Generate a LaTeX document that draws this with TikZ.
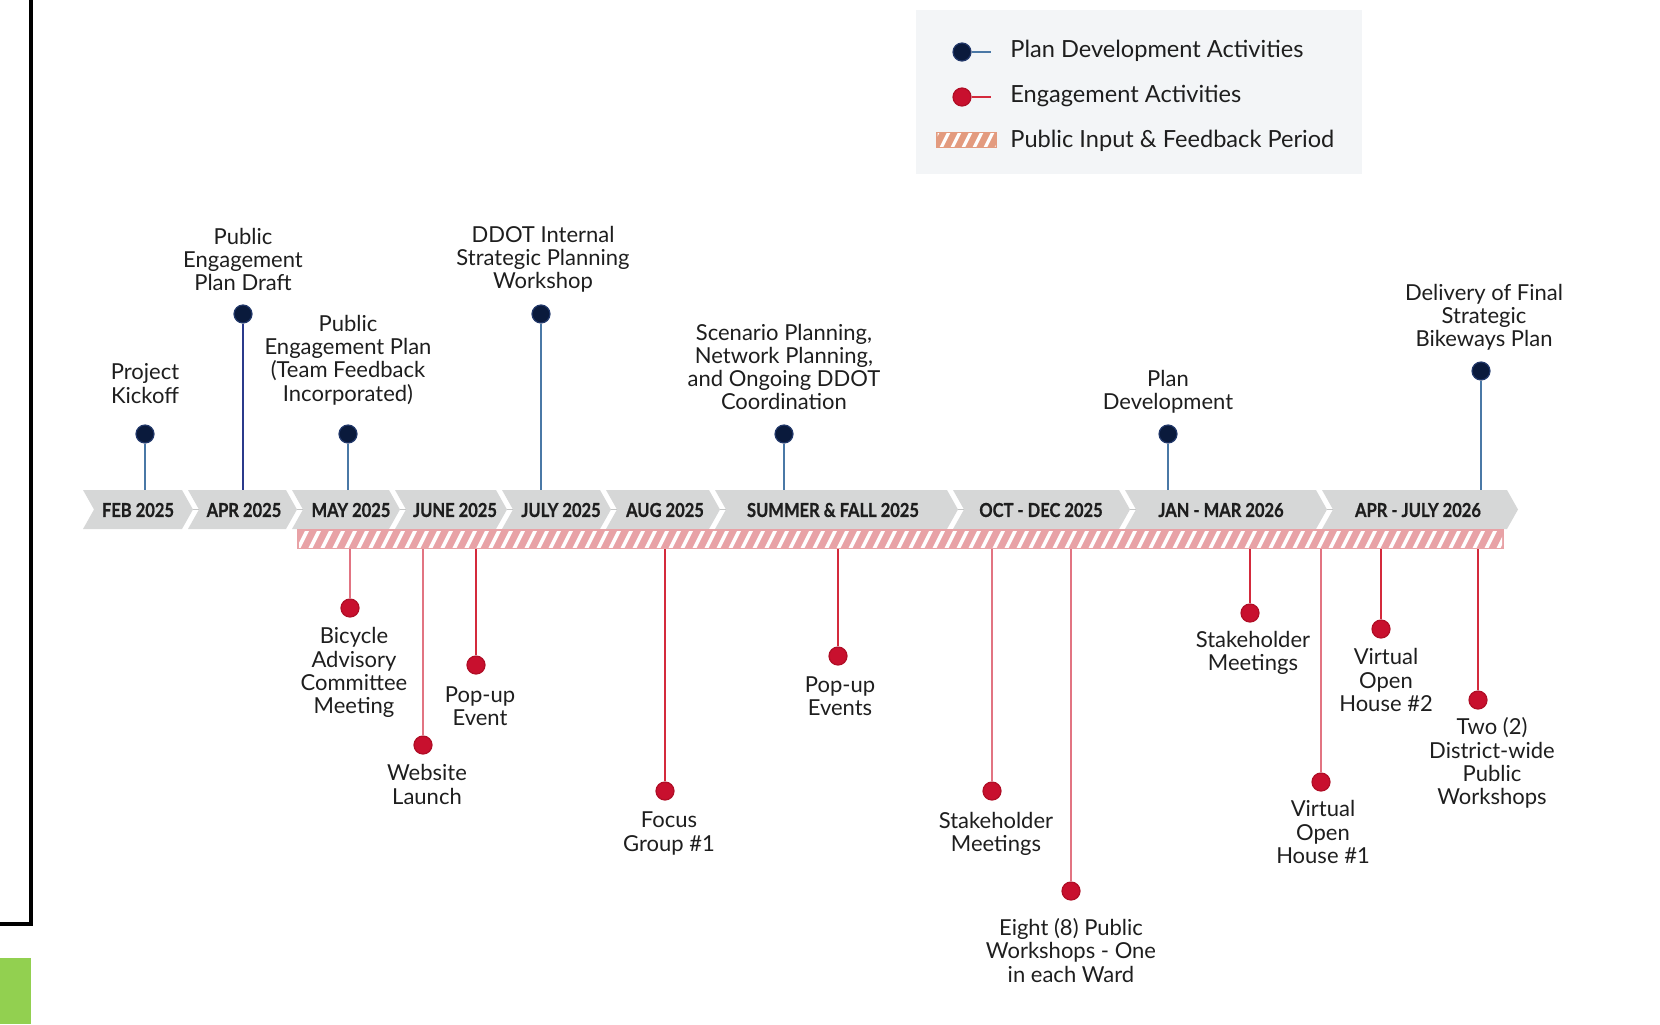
\documentclass[tikz,border=0pt]{standalone}
\usepackage{graphicx}
\usepackage{fontspec}
\setmainfont{Lato}
\newfontfamily\chevfont{Lato}[BoldFeatures={FakeBold=0.8}]
\definecolor{txtc}{HTML}{1E1E1E}
\definecolor{navyc}{HTML}{0A1A3C}
\definecolor{navyrim}{HTML}{22386A}
\definecolor{redc}{HTML}{C8102E}
\definecolor{redrim}{HTML}{B00E26}
\definecolor{stemblue}{HTML}{4A78A6}
\definecolor{stemdark}{HTML}{2B3A8C}
\definecolor{stemred}{HTML}{D42A3C}
\definecolor{stemlight}{HTML}{E27482}
\definecolor{chevc}{HTML}{D6D7D7}
\definecolor{hatchc}{HTML}{E8A2A6}
\definecolor{swatchc}{HTML}{E39B7F}
\definecolor{legbg}{HTML}{F3F5F7}
\definecolor{greenc}{HTML}{92D050}
\begin{document}
\begin{tikzpicture}[x=0.5pt,y=-0.5pt,
  lbl/.style={font=\fontsize{11}{11.6}\selectfont, align=center, inner sep=0pt, text=txtc},
  navydot/.style={circle, fill=navyc, draw=navyrim, line width=0.6pt, minimum size=9pt, inner sep=0pt},
  reddot/.style={circle, fill=redc, draw=redrim, line width=0.6pt, minimum size=9pt, inner sep=0pt},
  navystem/.style={draw=stemblue, line width=0.9pt},
  darkstem/.style={draw=stemdark, line width=0.9pt},
  redstem/.style={draw=stemred, line width=0.9pt},
  lightstem/.style={draw=stemlight, line width=0.9pt},
  chevtxt/.style={font=\chevfont\fontsize{9.6}{10}\selectfont\bfseries, text=txtc, inner sep=0pt},
  legtxt/.style={font=\fontsize{11.8}{13}\selectfont, text=txtc, anchor=base west, inner sep=0pt},
]
\useasboundingbox (0,0) rectangle (1660,1024);

% frame remnants
\draw[black, line width=1.75pt] (0,924) -- (31,924) -- (31,-2);
\fill[greenc] (0,958) rectangle (31,1024);

% legend
\fill[legbg] (916,10) rectangle (1362,174);
\node[navydot] (lgnavy) at (962,52) {};
\coordinate (lgnavyend) at (991,52);
\draw[navystem] (lgnavy) -- (lgnavyend);
\node[legtxt] (lgt1) at (1010,57) {Plan Development Activities};
\node[reddot] (lgred) at (962,97) {};
\coordinate (lgredend) at (991,97);
\draw[redstem] (lgred) -- (lgredend);
\node[legtxt] (lgt2) at (1010,102) {Engagement Activities};
\fill[swatchc] (936,132) rectangle (997,148);
\begin{scope}
  \clip (937.5,133.5) rectangle (995.5,146.5);
  \foreach \x in {930,941,...,1000} \draw[white, line width=1.6pt] (\x,148) -- (\x+8,132);
\end{scope}
\node[legtxt] (lgt3) at (1010,147) {Public Input \& Feedback Period};

% chevrons
\foreach \p/\t/\cx/\lab/\nm in {88/193/138/FEB 2025/c1, 193/297/244/APR 2025/c2, 297/400/351/MAY 2025/c3, 400/507/455/JUNE 2025/c4, 507/611/561/JULY 2025/c5, 611/720/665/AUG 2025/c6, 720/958/833/SUMMER \& FALL 2025/c7, 958/1130/1041/OCT - DEC 2025/c8, 1130/1327/1221/JAN - MAR 2026/c9, 1327/1518/1418/APR - JULY 2026/c10}{
  \fill[chevc] (\p-5,490) -- (\t-11,490) -- (\t,509.5) -- (\t-11,529) -- (\p-5,529) -- (\p+6,509.5) -- cycle;
  \node[chevtxt] (\nm) at (\cx,510) {\scalebox{0.86}[1]{\lab}};
}
\foreach \t in {193,297,400,507,611,720,958,1130,1327}
  \draw[chevc!80!gray, line width=0.6pt] (\t,509.5) -- (\t+6,509.5);

% hatched public input bar
\fill[hatchc] (297,529) rectangle (1504,549);
\begin{scope}
  \clip (299,531) rectangle (1502,547);
  \foreach \x in {286,298,...,1512} \draw[white, line width=1.8pt] (\x,549) -- (\x+10,529);
\end{scope}

% plan development activities
\foreach \nm/\x/\y/\st in {kick/145/434/navystem, pdraft/243/314/darkstem, pteam/348/434/navystem, ddot/541/314/navystem, scen/784/434/navystem, pdev/1168/434/navystem, deliv/1481/371/navystem}{
  \coordinate (\nm-b) at (\x,490);
  \node[navydot] (\nm-d) at (\x,\y) {};
  \draw[\st] (\nm-d) -- (\nm-b);
}
\node[lbl] (kick-l) at (145,383.5) {Project\\Kickoff};
\node[lbl] (pdraft-l) at (243,259.5) {Public\\Engagement\\Plan Draft};
\node[lbl] (pteam-l) at (348,360) {Public\\Engagement Plan\\(Team Feedback\\Incorporated)};
\node[lbl] (ddot-l) at (543,259.5) {DDOT Internal\\Strategic Planning\\Workshop};
\node[lbl] (scen-l) at (784,367) {Scenario Planning,\\Network Planning,\\and Ongoing DDOT\\Coordination};
\node[lbl] (pdev-l) at (1168,392) {Plan\\Development};
\node[lbl] (deliv-l) at (1484,317) {Delivery of Final\\Strategic\\Bikeways Plan};

% engagement activities
\foreach \nm/\x/\y/\st in {bac/350/608/lightstem, web/423/745/lightstem, pop1/476/665/redstem, focus/665/791/redstem, pop2/838/656/redstem, stk1/992/791/lightstem, eight/1071/891/lightstem, stk2/1250/613/redstem, voh1/1321/782/lightstem, voh2/1381/629/redstem, two/1478/700/redstem}{
  \coordinate (\nm-t) at (\x,549);
  \node[reddot] (\nm-d) at (\x,\y) {};
  \draw[\st] (\nm-t) -- (\nm-d);
}
\node[lbl] (bac-l) at (354,672.5) {Bicycle\\Advisory\\Committee\\Meeting};
\node[lbl] (web-l) at (427,784.5) {Website\\Launch};
\node[lbl] (pop1-l) at (480,706) {Pop-up\\Event};
\node[lbl] (focus-l) at (669,833.5) {Focus\\Group \#1};
\node[lbl] (pop2-l) at (840,696) {Pop-up\\Events};
\node[lbl] (stk1-l) at (996,833.5) {Stakeholder\\Meetings};
\node[lbl] (eight-l) at (1071,950.5) {Eight (8) Public\\Workshops - One\\in each Ward};
\node[lbl] (stk2-l) at (1253,653) {Stakeholder\\Meetings};
\node[lbl] (voh1-l) at (1323,832) {Virtual\\Open\\House \#1};
\node[lbl] (voh2-l) at (1386,680) {Virtual\\Open\\House \#2};
\node[lbl] (two-l) at (1492,763) {Two (2)\\District-wide\\Public\\Workshops};
\end{tikzpicture}
\end{document}
